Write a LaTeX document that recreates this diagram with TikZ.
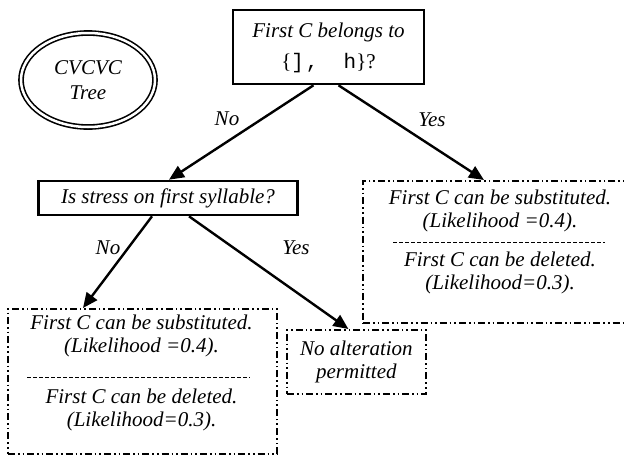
\documentclass[tikz,border=0pt]{standalone}
\usepackage{fontspec}
\setmainfont{Liberation Serif}
\setmonofont{Liberation Mono}
\usetikzlibrary{arrows.meta,shapes.geometric}
\begin{document}
\begin{tikzpicture}[x=1pt,y=-1pt,
  every node/.style={font=\fontsize{21}{22.5}\selectfont\itshape},
  solidbox/.style={draw, line width=2.6pt, inner sep=0pt},
  ddbox/.style={draw, line width=1.8pt, dash pattern=on 7pt off 3pt on 1.6pt off 3pt on 1.6pt off 3pt, inner sep=0pt},
  txt/.style={inner sep=0pt, align=center},
  sepline/.style={line width=1pt, dash pattern=on 4pt off 2pt},
  arr/.style={line width=2.4pt, -{Triangle[length=15pt,width=13pt]}},
  lab/.style={inner sep=0pt}]
\useasboundingbox (0,0) rectangle (624,455);
\clip (0,0) rectangle (624,455);

% root
\node[solidbox, minimum width=191pt, minimum height=74pt] (top) at (328.5,47) {};
\node[txt] (t1) at (328.5,32) {First C belongs to};
\node[txt] (t2) at (328.5,63) {\upshape\{\texttt{]\kern2pt,\ \ h}\}?};

% title ellipse
\node[ellipse, draw, double, double distance=2.5pt, line width=1.6pt,
      minimum width=134pt, minimum height=94pt, inner sep=0pt, align=center,
      font=\fontsize{21}{25}\selectfont\itshape] (tree) at (88,80) {CVCVC\\Tree};

% second question
\node[solidbox, minimum width=259pt, minimum height=34pt] (stress) at (168,198) {Is stress on first syllable?};

% right result box
\node[ddbox, minimum width=276pt, minimum height=142pt, anchor=north west] (rbox) at (362,180) {};
\node[txt] (r1) at (500,211) {First C can be substituted.\\(Likelihood =0.4).};
\draw[sepline] (393,242) -- (605,242);
\node[txt] (r3) at (500,273) {First C can be deleted.\\(Likelihood=0.3).};

% left result box
\node[ddbox, minimum width=269pt, minimum height=145pt, anchor=north west] (lbox) at (7,308) {};
\node[txt] (l1) at (141.5,336) {First C can be substituted.\\(Likelihood =0.4).};
\draw[sepline] (27,377) -- (250,377);
\node[txt] (l3) at (141.5,410) {First C can be deleted.\\(Likelihood=0.3).};

% no alteration box
\node[ddbox, minimum width=139pt, minimum height=64pt, anchor=north west, align=center] (nabox) at (286,329) {No alteration\\permitted};

% connectors
\draw[arr] ([xshift=-15pt]top.south) -- ([xshift=1pt]stress.north);
\draw[arr] ([xshift=10pt]top.south) -- ([xshift=122pt]rbox.north west);
\draw[arr] ([xshift=-16pt]stress.south) -- ([xshift=76pt]lbox.north west);
\draw[arr] ([xshift=21pt]stress.south) -- ([xshift=-8pt]nabox.north);

% labels
\node[lab] (n1) at (227,119) {No};
\node[lab] (y1) at (432,120) {Yes};
\node[lab] (n2) at (108,248) {No};
\node[lab] (y2) at (296,248) {Yes};
\end{tikzpicture}
\end{document}
